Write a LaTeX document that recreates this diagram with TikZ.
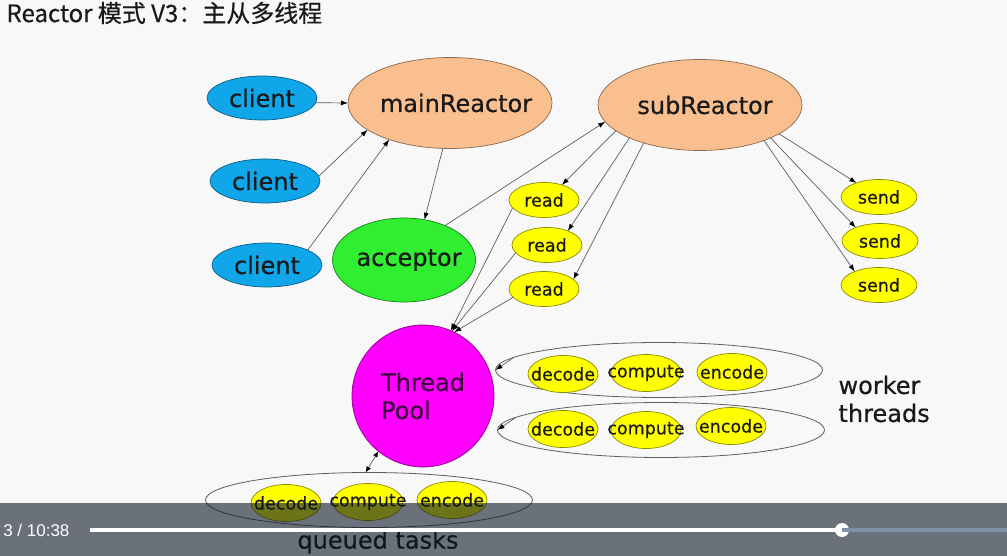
\documentclass[tikz,border=0pt]{standalone}
\usepackage{fontspec}
\setmainfont{DejaVu Sans}[FakeBold=0.5]
\newfontfamily\cjkfont{Noto Sans CJK SC}[FakeBold=0.4]
\newfontfamily\playerfont{Liberation Sans}
\usetikzlibrary{positioning}
\usetikzlibrary{arrows.meta}
\usetikzlibrary{shapes.geometric}

\definecolor{bgcol}{HTML}{F8F8F8}
\definecolor{clientblue}{HTML}{10A6EA}
\definecolor{reactorpeach}{HTML}{F9BF8F}
\definecolor{acceptgreen}{HTML}{30EE30}
\definecolor{taskyellow}{HTML}{FFFF00}
\definecolor{poolmagenta}{HTML}{FF00FF}
\definecolor{linegray}{HTML}{5E5E5E}
\definecolor{barcol}{RGB}{13,23,40}
\definecolor{trackcol}{HTML}{8090A8}

\newcommand{\nowidth}[1]{\makebox[0pt]{#1}}

\tikzset{
  bubble/.style={ellipse, fill=#1, draw=#1!55!black, line width=0.7pt,
    inner sep=0pt, outer sep=0pt, text=black!90},
  bigfont/.style={font=\fontsize{24}{28}\selectfont},
  smallfont/.style={font=\fontsize{17.5}{20}\selectfont},
  clientnode/.style={bubble=clientblue, bigfont, minimum width=110pt, minimum height=44pt},
  reactornode/.style={bubble=reactorpeach, bigfont, minimum width=204pt, minimum height=91pt},
  readnode/.style={bubble=taskyellow, smallfont, minimum width=70pt, minimum height=35pt},
  sendnode/.style={bubble=taskyellow, smallfont, minimum width=76pt, minimum height=35pt},
  tasknode/.style={bubble=taskyellow, smallfont, minimum width=70pt, minimum height=37pt},
  group/.style={ellipse, draw=linegray, line width=0.8pt, inner sep=0pt, outer sep=0pt,
    minimum width=327pt, minimum height=55pt},
  conn/.style={draw=linegray, line width=0.7pt, -{Latex[length=7pt, width=5pt, color=black]}},
  bothways/.style={conn, {Latex[length=6pt, width=5pt, color=black]}-{Latex[length=6pt, width=5pt, color=black]}}
}

\begin{document}
\begin{tikzpicture}[x=1pt, y=-1pt]
\clip (0,0) rectangle (1007,556);
\fill[bgcol] (0,0) rectangle (1007,556);

\node[anchor=west, text=black!90, font=\cjkfont\fontsize{24}{28}\selectfont] (title) at (3,13) {Reactor 模式 V3：主从多线程};

% clients and reactors
\node[clientnode] (client1) at (262,98) {client};
\node[clientnode] (client2) at (265,181) {client};
\node[clientnode] (client3) at (267,265) {client};

\node[reactornode] (mainReactor) at (450,103) {\nowidth{\hspace*{12pt}mainReactor}};
\node[reactornode] (subReactor) at (700,105) {\nowidth{\hspace*{10pt}subReactor}};
\node[bubble=acceptgreen, bigfont, minimum width=143pt, minimum height=84pt] (acceptor) at (404,260) {\nowidth{\hspace*{10pt}acceptor}};

\node[readnode] (read1) at (544,200) {read};
\node[readnode] (read2) at (547,245) {read};
\node[readnode] (read3) at (544,289) {read};

\node[sendnode] (send1) at (879,197) {send};
\node[sendnode] (send2) at (880,241) {send};
\node[sendnode] (send3) at (879,285) {send};

\node[circle, fill=poolmagenta, draw=poolmagenta!55!black, line width=0.7pt, inner sep=0pt,
  outer sep=0pt, minimum size=142pt, bigfont, align=left, text=black!75!poolmagenta] (pool) at (423,396) {Thread\\Pool};

% worker threads
\node[group] (worker1) at (659,370) {};
\node[group] (worker2) at (661,430) {};
\node[tasknode] (decode1) at (563,374) {\nowidth{decode}};
\node[tasknode] (compute1) at (646,373) {\nowidth{compute}};
\node[tasknode] (encode1) at (732,372) {\nowidth{encode}};
\node[tasknode] (decode2) at (563,429) {\nowidth{decode}};
\node[tasknode] (compute2) at (646,430) {\nowidth{compute}};
\node[tasknode] (encode2) at (731,426) {\nowidth{encode}};
\node[bigfont, anchor=west, align=left, text=black!90] (workerlabel) at (835,399) {worker\\threads};

% queued tasks
\node[group] (queue) at (369,500) {};
\node[tasknode] (decode3) at (286,503) {\nowidth{decode}};
\node[tasknode] (compute3) at (368,502) {\nowidth{compute}};
\node[tasknode] (encode3) at (452,500) {\nowidth{encode}};
\node[bigfont, text=black!90] (queuelabel) at (378,542) {queued tasks};

\draw[conn] (client1.-5) -- (mainReactor.180);
\draw[conn] (client2.5) -- (mainReactor.198);
\draw[conn] (client3.20) -- (mainReactor.211);
\draw[conn] (mainReactor.-99) -- (acceptor.63);
\draw[conn] (acceptor.40) -- (subReactor.190);

\draw[conn] (subReactor.197) -- (read1.40);
\draw[conn] (subReactor.205) -- (read2.34);
\draw[conn] (subReactor.214) -- (read3.18);
\draw[conn] (read1.194) -- (pool.67);
\draw[conn] (read2.194) -- (pool.66);
\draw[conn] (read3.195) -- (pool.64);

\draw[conn] (subReactor.-20) -- (send1.148);
\draw[conn] (subReactor.-25) -- (send2.151);
\draw[conn] (subReactor.-29) -- (send3.151);

\draw[conn] (worker1.175) -- (worker1.west);
\draw[conn] (worker2.175) -- (worker2.west);
\draw[bothways] (queue.97) -- (pool.231);

% player bar
\fill[barcol, fill opacity=0.6] (0,503) rectangle (1007,556);
\node[circle, fill=white, minimum size=14pt, inner sep=0pt] (knob) at (842,530) {};
\coordinate (barstart) at (90,530);
\coordinate (barend) at (1007,530);
\draw[trackcol, line width=4pt] (knob.center) -- (barend);
\draw[white, line width=4pt] (barstart) -- (knob.center);
\node[anchor=east, text=white, font=\playerfont\fontsize{17}{20}\selectfont] (time) at (73,530) {3 / 10:38};
\end{tikzpicture}
\end{document}
